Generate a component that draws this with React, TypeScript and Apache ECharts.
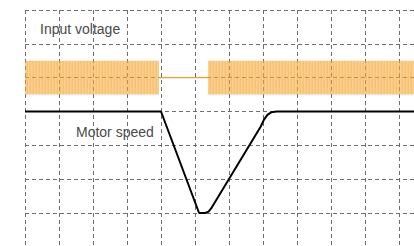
import React, { useEffect, useRef } from "react";
import * as echarts from "echarts";

// Grid units: x = time divisions, y = vertical divisions (top = 0)
const xMax = 11.6;
const yMax = 7.2;

// Input voltage: AC band (centre level, half-amplitude) and its on-segments
const voltageCentre = 2;
const voltageHalfAmplitude = 0.5;
const voltageOnSegments: [number, number][] = [
  [0, 3.94],
  [5.38, xMax],
];
// Voltage off: flat line at centre level
const voltageOffLine: [number, number][] = [
  [3.94, 2],
  [5.38, 2],
];

// Motor speed trace (x, y)
const motorSpeed: [number, number][] = [
  [0, 3],
  [4.0, 3],
  [5.12, 6],
  [5.3, 6],
  [5.4, 5.96],
  [5.48, 5.86],
  [5.55, 5.74],
  [6.93, 3.45],
  [7.03, 3.24],
  [7.13, 3.1],
  [7.25, 3.02],
  [7.4, 3],
  [xMax, 3],
];

const labels = [
  { text: "Input voltage", x: 40, y: 29 },
  { text: "Motor speed", x: 76, y: 132 },
];

function makeStripePattern(): any {
  const c = document.createElement("canvas");
  c.width = 3;
  c.height = 4;
  const ctx = c.getContext("2d");
  if (!ctx) return "rgba(245, 166, 55, 0.6)";
  const cols = ["rgba(244,163,48,0.68)", "rgba(246,170,60,0.56)", "rgba(245,166,52,0.62)"];
  cols.forEach((col, i) => {
    ctx.fillStyle = col;
    ctx.fillRect(i, 0, 1, 4);
  });
  return { image: c, repeat: "repeat" };
}

export default function App() {
  const ref = useRef<HTMLDivElement>(null);
  useEffect(() => {
    if (!ref.current) return;
    const chart = echarts.init(ref.current, undefined, { renderer: "svg" });
    const gridLine = {
      show: true,
      lineStyle: { color: "#6e6e6e", width: 1, type: [4, 3] as any },
    };
    chart.setOption({
      animation: false,
      grid: {
        left: 25,
        top: 10,
        width: xMax * 34,
        height: yMax * 33.83,
        containLabel: false,
        outerBoundsMode: "none",
      },
      xAxis: {
        type: "value",
        min: 0,
        max: xMax,
        interval: 1,
        axisLine: { show: false },
        axisTick: { show: false },
        axisLabel: { show: false },
        splitLine: gridLine,
      },
      yAxis: {
        type: "value",
        min: 0,
        max: yMax,
        interval: 1,
        inverse: true,
        axisLine: { show: false },
        axisTick: { show: false },
        axisLabel: { show: false },
        splitLine: gridLine,
      },
      series: [
        {
          type: "line",
          data: voltageOffLine,
          symbol: "none",
          lineStyle: { color: "#F0A030", width: 1.2 },
          z: 2,
          markArea: {
            silent: true,
            itemStyle: {
              color: makeStripePattern(),
            },
            data: voltageOnSegments.map(([a, b]) => [
              { xAxis: a, yAxis: voltageCentre - voltageHalfAmplitude },
              { xAxis: b, yAxis: voltageCentre + voltageHalfAmplitude },
            ]),
          },
        },
        {
          type: "line",
          data: motorSpeed,
          symbol: "none",
          lineStyle: { color: "#000", width: 2 },
          z: 3,
        },
      ],
      graphic: labels.map((l) => ({
        type: "text",
        x: l.x,
        y: l.y,
        style: {
          text: l.text,
          fill: "#4a4a4a",
          font: "14px 'Liberation Sans', Arial, sans-serif",
          verticalAlign: "middle",
        },
      })),
    });
    return () => chart.dispose();
  }, []);
  return (
    <div
      ref={ref}
      style={{ position: "fixed", left: 0, top: 0, width: 414, height: 246, background: "#fff" }}
    />
  );
}
